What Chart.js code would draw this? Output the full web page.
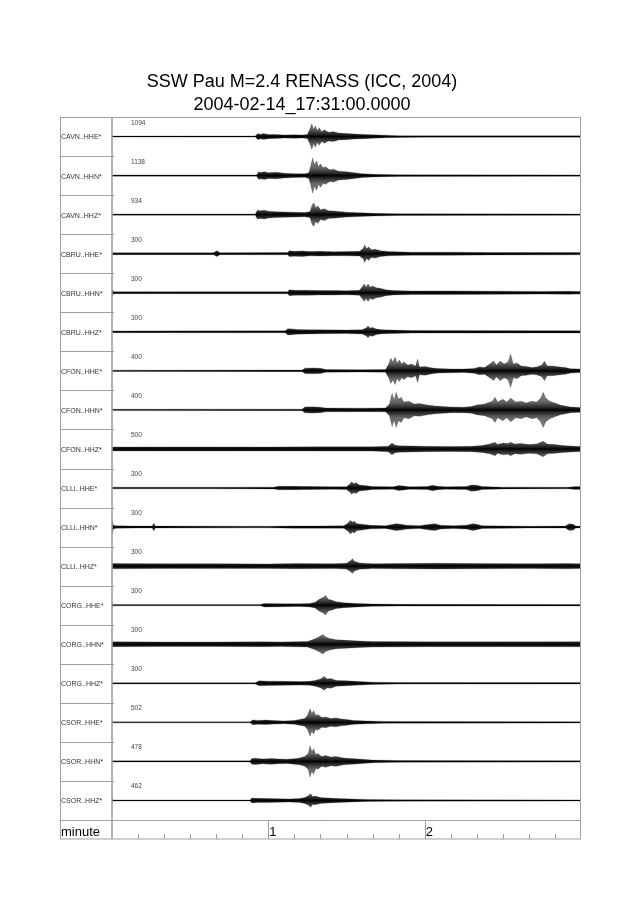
<!DOCTYPE html>
<html>
<head>
<meta charset="utf-8">
<script src="https://cdn.jsdelivr.net/npm/chart.js@4.4.1/dist/chart.umd.min.js"></script>
<style>
  html, body { margin: 0; padding: 0; background: #fff; }
  #wrap { width: 640px; height: 905px; }
</style>
</head>
<body>
<div id="wrap"><canvas id="seis" width="640" height="905"></canvas></div>
<script>
// Titulo y etiquetas
const titleLines = ['SSW Pau M=2.4 RENASS (ICC, 2004)', '2004-02-14_17:31:00.0000'];
const stations = [
    'CAVN..HHE*', 'CAVN..HHN*', 'CAVN..HHZ*',
    'CBRU..HHE*', 'CBRU..HHN*', 'CBRU..HHZ*',
    'CFON..HHE*', 'CFON..HHN*', 'CFON..HHZ*',
    'CLLI..HHE*', 'CLLI..HHN*', 'CLLI..HHZ*',
    'CORG..HHE*', 'CORG..HHN*', 'CORG..HHZ*',
    'CSOR..HHE*', 'CSOR..HHN*', 'CSOR..HHZ*'
];
const scaleLabels = ['1094', '1138', '934', '300', '300', '300', '400', '400', '500',
    '300', '300', '300', '300', '300', '300', '502', '478', '462'];

// eje x en segundos, etiquetas en minutos
const axisName = 'minute';
const majorTicks = [60, 120];
const majorTickLabels = ['1', '2'];
const minorTicks = [10, 20, 30, 40, 50, 70, 80, 90, 100, 110, 130, 140, 150, 160, 170];

const cavnHHE = [[0,0.5],[30,0.6],[55,0.6],[56,3.2],[57,2.2],[58,3],[60,2.2],[63,2],[66,1.6],[70,1.8],[73,1.5],[75,2],[76,8],[76.7,13],[77.4,7],[78,11],[78.8,6],[79.5,9],[80.5,5],[81.5,7],[83,4.5],[85,5],[87,3.5],[90,3.2],[93,2.5],[97,2.2],[100,1.8],[105,1.3],[110,0.9],[120,0.7],[180,0.7]];
const cavnHHN = [[0,0.6],[55.5,0.6],[56.3,4],[57,3.2],[58.5,4],[60,3],[63,3.3],[66,2.5],[70,2],[74,1.8],[75.6,3],[76.3,10],[77,18],[77.7,11],[78.5,15],[79.3,9],[80,12],[81,8],[82,9],[83.5,6],[85,6.5],[87,4.5],[90,4],[93,3],[96,2],[100,1.4],[110,0.9],[180,0.7]];
const cavnHHZ = [[0,0.6],[55,0.6],[55.8,4.5],[57,4],[58.5,4.5],[60,3.5],[63,3],[66,2.8],[70,2.5],[74,2.2],[76,3],[76.8,10],[77.5,12],[78.2,7],[79,9],[80,5],[81.5,6],[83,4],[86,3.5],[90,2.5],[95,2],[100,1.4],[110,0.9],[180,0.7]];
const cbruHHE = [[0,1],[39,1],[40.2,3],[41.5,1],[67.5,1.1],[68,3],[70,2.5],[73,2.8],[76,2.2],[80,2.4],[85,2],[90,2.2],[95,2.4],[96.3,5],[97,9],[97.7,5],[98.5,7],[99.5,4],[101,4.5],[103,3],[106,2.2],[115,1.6],[130,1.6],[145,1.3],[180,1.2]];
const cbruHHN = [[0,4],[0.6,1],[67.5,1.1],[68,3],[70,2.6],[75,2.5],[80,2.2],[85,2.4],[90,2],[95,2.5],[96,6],[96.8,9],[97.5,6],[98.3,9],[99,6],[100,7],[101.5,5],[103,4.5],[105,3],[108,2.2],[115,1.8],[130,1.9],[150,1.6],[165,1.4],[175,1.5],[180,1.3]];
const cbruHHZ = [[0,1.3],[0.4,0.9],[66.5,1],[67.5,3.2],[69,3],[71,2.4],[75,2.2],[80,2],[90,1.8],[96,2.2],[97.5,4],[98.3,6],[99,4],[100,4.5],[101.5,2.8],[104,2],[115,1.3],[180,1.1]];
const cfonHHE = [[0,0.7],[73,0.8],[74,2.8],[77,3],[80,2.6],[82,1.4],[95,1.2],[105,1.4],[106.2,7],[107,13],[107.8,9],[108.6,14],[109.4,8],[110.3,11],[111.2,7],[112,9],[113.5,6],[115,7],[116.5,5],[117.3,12],[118,4],[120,4.5],[123,3],[125,2.3],[130,2],[135,1.8],[139,2.4],[141,4],[143,3.5],[145,7],[146.5,10],[147.5,6],[149,10],[150.5,7],[152,9],[153,17],[154,7],[155.5,8],[157,5],[159,4.5],[161,3.5],[163,4],[165,6],[166,10],[167,5],[169,5],[172,4],[174,3.5],[176,2.2],[180,1.8]];
const cfonHHN = [[0,0.7],[73,0.8],[74,3],[77,3.2],[80,2.8],[82,2],[95,1.8],[105,2],[106.5,6],[107.5,17],[108.3,10],[109,18],[110,11],[111,13],[112,8],[114,9],[116,6],[118,6.5],[121,5],[124,4],[127,3.5],[130,3],[135,2.8],[138,3.5],[140,5],[143,6],[146,9],[147,13],[148,8],[150,11],[151.5,8],[153,12],[155,8],[157,9],[159,7],[161,9],[163,8],[164.5,12],[165.5,18],[166.5,12],[168,9],[170,7],[172,5],[174,4],[176,3],[180,2.5]];
const cfonHHZ = [[0,2],[30,2.1],[60,2],[80,2.2],[100,2.2],[106,2.8],[107.5,6],[108.5,4],[110,3.3],[115,3],[120,2.8],[130,2.6],[138,2.8],[142,3.5],[145,5],[147,7],[148,4.5],[150,6],[152,5.5],[153,7],[154.5,5],[157,5.5],[160,4.5],[163,5],[165.5,8],[167,5],[170,4.5],[173,3.5],[176,3],[180,2.6]];
const clliHHE = [[0,0.8],[40,0.8],[62,0.9],[64,1.8],[70,1.7],[76,1.5],[85,1.2],[90,1.4],[91.3,4],[92,6.5],[92.8,4.5],[93.6,5.5],[95,3],[97,2.5],[100,1.5],[108,1.2],[110,2.5],[112,2],[114,1.2],[121,1.5],[123,2.8],[125,1.8],[128,1.2],[136,1.5],[138,3.2],[140,2.8],[142,1.5],[150,0.9],[175,0.8],[178,1.6],[180,1.2]];
const clliHHN = [[0,8],[0.5,2],[1.5,1.3],[8,1],[15.5,1],[16,4],[16.6,1],[50,0.8],[60,0.8],[70,1.2],[80,1.1],[89,1.3],[90.5,4],[91.5,7],[92.3,5],[93,6],[94,3.5],[96,3],[99,1.8],[105,1.4],[107,2.5],[109,3.5],[111,3],[113,2],[118,1.4],[122,3],[124,3.5],[126,2],[131,1.4],[136,2],[138.5,3.5],[140,2.8],[142,1.4],[160,0.9],[174,1],[175.5,3.5],[177,3],[178,1],[180,1]];
const clliHHZ = [[0,2.7],[20,2.4],[40,2.5],[60,2.3],[70,2.6],[85,2.5],[90,2.9],[91.5,5.5],[92.3,7.5],[93,5],[95,3.3],[100,2.5],[110,2.7],[125,2.9],[140,2.6],[160,2.5],[175,2.7],[180,2.5]];
const corgHHE = [[0,2.5],[0.4,0.6],[57,0.6],[58.5,1.8],[65,1.6],[72,1.4],[76,1.8],[78,3],[79.5,6],[81,8],[82,10],[83,6],[84.5,5],[86,3.5],[89,2.5],[94,1.8],[100,1.2],[110,0.9],[180,0.7]];
const corgHHN = [[0,2.5],[20,2.4],[40,2.3],[57,2.5],[65,2.4],[75,2.8],[77.5,5],[79,7],[80.3,9],[81,10],[82,7.5],[83.5,6],[86,4.5],[90,4],[95,3.3],[100,2.8],[120,2.5],[150,2.5],[180,2.6]];
const corgHHZ = [[0,0.6],[55,0.6],[56.5,2.5],[60,2.2],[66,2],[72,1.8],[76,2],[78,3],[80,4.5],[81.5,7],[82.5,4.5],[84,5],[86,3],[90,2.5],[95,1.8],[100,1.1],[110,0.8],[180,0.7]];
const csorHHE = [[0,0.5],[53,0.5],[54,2.5],[56,2],[59,2.3],[62,1.8],[66,1.5],[70,2],[72,3],[74,4],[75,7],[76,14],[76.7,9],[77.4,12],[78.2,7],[79,8],[80.5,5],[82,5.5],[84,4],[86,4.5],[88,3.5],[90,3],[93,2],[98,1.4],[105,1],[180,0.6]];
const csorHHN = [[0,0.6],[53,0.6],[53.7,3],[55,3.2],[58,2.5],[61,3],[64,2.5],[67,2.2],[70,2.8],[72,3.5],[74,5],[75.3,8],[76,16],[76.7,10],[77.4,13],[78.2,7],[79,8],[80.5,5],[82,6],[84,4.5],[86,5],[89,3.5],[92,3],[96,2.2],[100,1.4],[110,0.9],[180,0.7]];
const csorHHZ = [[0,2.5],[0.4,0.5],[53,0.5],[53.7,2.5],[56,2.2],[60,2],[64,1.8],[68,1.6],[72,2],[74,3],[75.5,5],[76.2,7],[77,4],[78,4.5],[80,3],[83,2.5],[87,2],[92,1.5],[98,1],[110,0.7],[180,0.6]];

const envelopes = [cavnHHE, cavnHHN, cavnHHZ, cbruHHE, cbruHHN, cbruHHZ,
    cfonHHE, cfonHHN, cfonHHZ, clliHHE, clliHHN, clliHHZ,
    corgHHE, corgHHN, corgHHZ, csorHHE, csorHHN, csorHHZ];

const ROW = 40; // unidades de y por traza
const FONT = '"Liberation Sans", Arial, Helvetica, sans-serif';

// Relleno: negro en la linea base, gris hacia los picos
function traceFill(i) {
    return function (context) {
        const chart = context.chart;
        if (!chart.chartArea) return 'rgba(0,0,0,0.8)';
        const y = chart.scales.y;
        const top = y.getPixelForValue(ROW * i);
        const bottom = y.getPixelForValue(ROW * (i + 1));
        const g = chart.ctx.createLinearGradient(0, top, 0, bottom);
        g.addColorStop(0, 'rgba(0,0,0,0.45)');
        g.addColorStop(0.3, 'rgba(0,0,0,0.6)');
        g.addColorStop(0.44, 'rgba(0,0,0,0.85)');
        g.addColorStop(0.5, 'rgba(0,0,0,1)');
        g.addColorStop(0.56, 'rgba(0,0,0,0.85)');
        g.addColorStop(0.7, 'rgba(0,0,0,0.6)');
        g.addColorStop(1, 'rgba(0,0,0,0.45)');
        return g;
    };
}

// Cada traza: borde superior (rellena hasta el siguiente) e inferior
const datasets = [];
envelopes.forEach((env, i) => {
    const base = ROW * i + ROW / 2;
    datasets.push({
        data: env.map(p => ({ x: p[0], y: base - p[1] })),
        fill: '+1',
        backgroundColor: traceFill(i)
    });
    datasets.push({
        data: env.map(p => ({ x: p[0], y: base + p[1] })),
        fill: false
    });
});

// Marco, etiquetas de estaciones y eje de minutos
const seisFrame = {
    id: 'seisFrame',
    afterDraw(chart) {
        const { ctx, chartArea: a, scales: { x, y } } = chart;
        const frameLeft = 60, frameBottom = 839;
        ctx.save();

        ctx.strokeStyle = '#a0a0a0';
        ctx.lineWidth = 1;
        ctx.strokeRect(frameLeft + 0.5, a.top + 0.5, a.right - frameLeft - 1, frameBottom - a.top - 0.5);

        ctx.beginPath();
        ctx.moveTo(frameLeft, a.bottom + 0.5);
        ctx.lineTo(a.right, a.bottom + 0.5);
        for (let i = 1; i < stations.length; i++) {
            const yy = Math.round(y.getPixelForValue(ROW * i)) + 0.5;
            ctx.moveTo(frameLeft, yy);
            ctx.lineTo(a.left + 2, yy);
        }
        minorTicks.forEach(t => {
            const xx = Math.round(x.getPixelForValue(t)) + 0.5;
            ctx.moveTo(xx, frameBottom);
            ctx.lineTo(xx, frameBottom - 5);
        });
        majorTicks.forEach(t => {
            const xx = Math.round(x.getPixelForValue(t)) + 0.5;
            ctx.moveTo(xx, a.bottom);
            ctx.lineTo(xx, frameBottom);
        });
        ctx.stroke();

        ctx.lineWidth = 1.6;
        ctx.beginPath();
        ctx.moveTo(a.left, a.top);
        ctx.lineTo(a.left, frameBottom);
        ctx.stroke();

        // titulo
        ctx.fillStyle = '#000';
        ctx.textAlign = 'center';
        ctx.textBaseline = 'alphabetic';
        ctx.font = '18px ' + FONT;
        ctx.fillText(titleLines[0], 302, 87);
        ctx.fillText(titleLines[1], 302, 110);

        // estaciones y escalas
        ctx.textAlign = 'left';
        stations.forEach((name, i) => {
            const base = y.getPixelForValue(ROW * i + ROW / 2);
            ctx.fillStyle = '#333';
            ctx.font = '7px ' + FONT;
            ctx.textBaseline = 'middle';
            ctx.fillText(name, frameLeft + 1, base + 1);
            ctx.fillStyle = '#444';
            ctx.font = '6.5px ' + FONT;
            ctx.textBaseline = 'alphabetic';
            ctx.fillText(scaleLabels[i], a.left + 19, base - 12);
        });

        // eje
        ctx.fillStyle = '#000';
        ctx.font = '13px ' + FONT;
        ctx.fillText(axisName, frameLeft + 1, 836);
        majorTicks.forEach((t, i) => {
            ctx.fillText(majorTickLabels[i], x.getPixelForValue(t) + 1, 836);
        });
        ctx.restore();
    }
};

new Chart(document.getElementById('seis'), {
    type: 'line',
    data: { datasets: datasets },
    options: {
        responsive: false,
        animation: false,
        devicePixelRatio: 1,
        layout: { padding: { left: 112, right: 59, top: 117, bottom: 85 } },
        elements: {
            point: { radius: 0 },
            line: {
                tension: 0,
                borderWidth: 0.4,
                borderColor: 'rgba(0,0,0,0.55)',
                backgroundColor: 'rgba(0,0,0,0.8)'
            }
        },
        scales: {
            x: { type: 'linear', min: 0, max: 180, display: false },
            y: { type: 'linear', min: 0, max: ROW * stations.length, reverse: true, display: false }
        },
        plugins: {
            legend: { display: false },
            tooltip: { enabled: false }
        }
    },
    plugins: [seisFrame]
});
</script>
</body>
</html>
